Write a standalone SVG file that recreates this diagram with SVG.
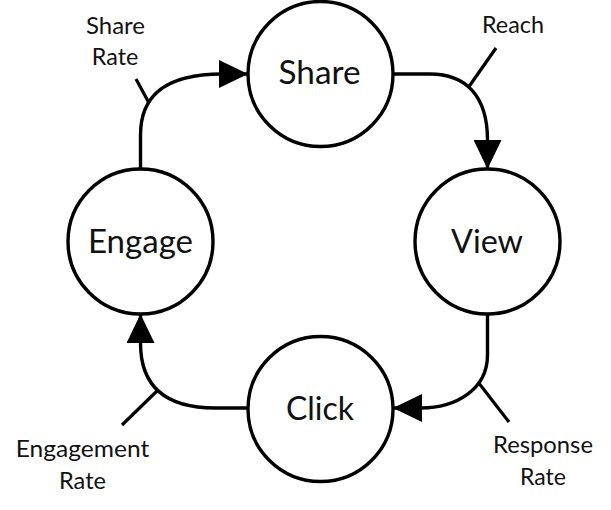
<svg xmlns="http://www.w3.org/2000/svg" width="611" height="510" viewBox="0 0 611 510">
  <defs>
    <style>
      .node { fill: #ffffff; stroke: #000000; stroke-width: 3.4; }
      .conn { fill: none; stroke: #000000; stroke-width: 3.4; }
      .tick { fill: none; stroke: #000000; stroke-width: 3.2; }
      .ntext { font-family: Lato, "Open Sans", "Liberation Sans", sans-serif; font-size: 32px; fill: #111111; text-anchor: middle; }
      .ltext { font-family: Lato, "Open Sans", "Liberation Sans", sans-serif; font-size: 22.5px; fill: #111111; text-anchor: middle; }
    </style>
    <marker id="arrow" viewBox="0 0 29 28" refX="29" refY="14" markerWidth="29" markerHeight="28" markerUnits="userSpaceOnUse" orient="auto">
      <path d="M0,0 L29,14 L0,28 Z" fill="#000000"/>
    </marker>
  </defs>
  <rect width="611" height="510" fill="#ffffff"/>

  <g id="connectors">
    <path class="conn" d="M140.5,169 L140.5,135 C140.5,100 160,74 222,74 L248,74" marker-end="url(#arrow)"/>
    <path class="conn" d="M393,74 L430,74 C465,74 487.5,95 487.5,140 L487.5,169" marker-end="url(#arrow)"/>
    <path class="conn" d="M487.5,314 L487.5,355 C487.5,390 455,408 421,408 L393,408" marker-end="url(#arrow)"/>
    <path class="conn" d="M248,408 L215,408 C170,408 140.5,390 140.5,343 L140.5,314" marker-end="url(#arrow)"/>
    <line class="tick" x1="136" y1="79" x2="149" y2="103"/>
    <line class="tick" x1="496" y1="48" x2="468" y2="88"/>
    <line class="tick" x1="478" y1="382" x2="509" y2="422"/>
    <line class="tick" x1="158" y1="390" x2="122" y2="425"/>
  </g>

  <g id="node-share">
    <circle class="node" cx="320.5" cy="74" r="72.5"/>
    <text class="ntext" x="319.5" y="83.5" textLength="82" lengthAdjust="spacingAndGlyphs">Share</text>
  </g>
  <g id="node-view">
    <circle class="node" cx="487.5" cy="241.5" r="72.5"/>
    <text class="ntext" x="487" y="252.5" textLength="72" lengthAdjust="spacingAndGlyphs">View</text>
  </g>
  <g id="node-click">
    <circle class="node" cx="320.5" cy="409" r="72.5"/>
    <text class="ntext" x="320" y="419.5" textLength="68" lengthAdjust="spacingAndGlyphs">Click</text>
  </g>
  <g id="node-engage">
    <circle class="node" cx="140.5" cy="241.5" r="72.5"/>
    <text class="ntext" x="140.5" y="253" textLength="105" lengthAdjust="spacingAndGlyphs">Engage</text>
  </g>

  <g id="label-share-rate">
    <text class="ltext" x="115.5" y="33.5" textLength="59" lengthAdjust="spacingAndGlyphs">Share</text>
    <text class="ltext" x="115" y="65" textLength="46.5" lengthAdjust="spacingAndGlyphs">Rate</text>
  </g>
  <g id="label-reach">
    <text class="ltext" x="513" y="32.5" textLength="62" lengthAdjust="spacingAndGlyphs">Reach</text>
  </g>
  <g id="label-response-rate">
    <text class="ltext" x="543" y="453" textLength="100" lengthAdjust="spacingAndGlyphs">Response</text>
    <text class="ltext" x="543" y="485" textLength="46" lengthAdjust="spacingAndGlyphs">Rate</text>
  </g>
  <g id="label-engagement-rate">
    <text class="ltext" x="82.5" y="457" textLength="133.5" lengthAdjust="spacingAndGlyphs">Engagement</text>
    <text class="ltext" x="82.5" y="489" textLength="47" lengthAdjust="spacingAndGlyphs">Rate</text>
  </g>
</svg>
